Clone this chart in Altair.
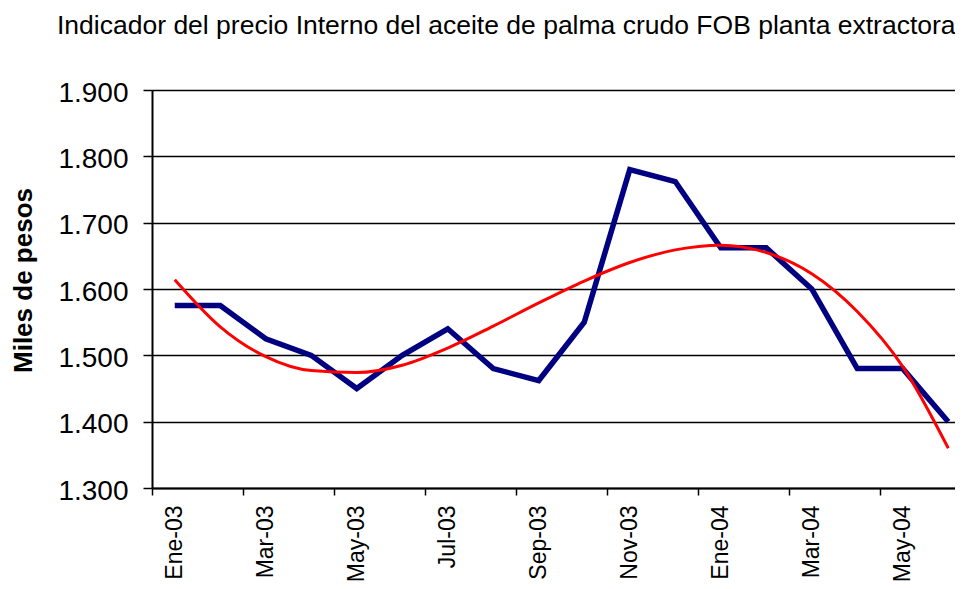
import altair as alt
import pandas as pd

titulo = ["Indicador del precio Interno del aceite de palma crudo FOB planta extractora"]
months = ["Ene-03", "Feb-03", "Mar-03", "Abr-03", "May-03", "Jun-03",
          "Jul-03", "Ago-03", "Sep-03", "Oct-03", "Nov-03", "Dic-03",
          "Ene-04", "Feb-04", "Mar-04", "Abr-04", "May-04", "Jun-04"]
precio = [1575, 1575, 1525, 1500, 1450, 1500, 1540, 1480, 1462, 1550,
          1780, 1762, 1662, 1662, 1600, 1480, 1480, 1400]
tendencia = [1614, 1543, 1498, 1477, 1474, 1485, 1511, 1544, 1579, 1612,
             1640, 1659, 1666, 1655, 1623, 1566, 1483, 1360]
y_ticks = [1300, 1400, 1500, 1600, 1700, 1800, 1900]

df_p = pd.DataFrame({"idx": list(range(len(months))), "mes": months, "valor": precio})
df_t = pd.DataFrame({"idx": list(range(len(months))), "mes": months, "valor": tendencia})
df_title = pd.DataFrame({"t": titulo})

FONT = "Liberation Sans"
PLOT_W = 803
X_MAX = -0.5 + PLOT_W / 45.5

tick_pos = [i - 0.5 for i in range(0, 17, 2)]
label_pos = list(range(0, 17, 2))
x_values = sorted(tick_pos + label_pos)
js_months = "[" + ",".join("'" + m + "'" for m in months) + "]"

x_enc = alt.X(
    "idx:Q",
    scale=alt.Scale(domain=[-0.5, X_MAX], nice=False, zero=False),
    axis=alt.Axis(
        title=None,
        values=x_values,
        labelExpr="datum.value % 2 == 0 ? " + js_months + "[datum.value] : ''",
        labelAngle=-90,
        labelAlign="right",
        labelBaseline="middle",
        labelFont=FONT,
        labelFontSize=23,
        labelColor="black",
        labelPadding=10,
        labelOverlap=False,
        labelFlush=False,
        labelBound=False,
        tickSize=7,
        tickWidth=1.5,
        tickColor="black",
        tickOpacity={"condition": {"test": "datum.value % 2 == 0", "value": 0}, "value": 1},
        domainColor="black",
        domainWidth=2,
        grid=False,
    ),
)

y_enc = alt.Y(
    "valor:Q",
    scale=alt.Scale(domain=[1300, 1900], nice=False, zero=False),
    axis=alt.Axis(
        title="Miles de pesos",
        titleFont=FONT,
        titleFontSize=26,
        titleFontWeight="bold",
        titleColor="black",
        titleAngle=270,
        titleAlign="center",
        titleBaseline="middle",
        titleX=-129,
        titleY=190,
        values=y_ticks,
        labelExpr="replace(format(datum.value, ','), ',', '.')",
        labelFont=FONT,
        labelFontSize=28,
        labelColor="black",
        labelPadding=15,
        labelOffset=3,
        tickSize=9,
        tickWidth=1.5,
        tickColor="black",
        domainColor="black",
        domainWidth=2,
        grid=True,
        gridColor="black",
        gridWidth=1.5,
    ),
)

blue = alt.Chart(df_p).mark_line(color="#000080", strokeWidth=5.5).encode(x=x_enc, y=y_enc)
red = alt.Chart(df_t).mark_line(color="#FF0000", strokeWidth=3, interpolate="monotone").encode(x=x_enc, y=y_enc)
title = alt.Chart(df_title).mark_text(
    align="left", baseline="alphabetic", font=FONT, fontSize=26.5, color="black"
).encode(x=alt.value(-95), y=alt.value(-56.5), text="t:N")

chart = (
    alt.layer(blue, red, title)
    .properties(
        width=PLOT_W,
        height=398,
        autosize=alt.AutoSizeParams(type="none"),
        padding={"left": 144, "top": 82, "right": 0, "bottom": 93},
    )
    .configure_view(stroke=None)
    .configure(background="white")
)

chart.save("out.html", embed_options={"renderer": "svg", "actions": False})
